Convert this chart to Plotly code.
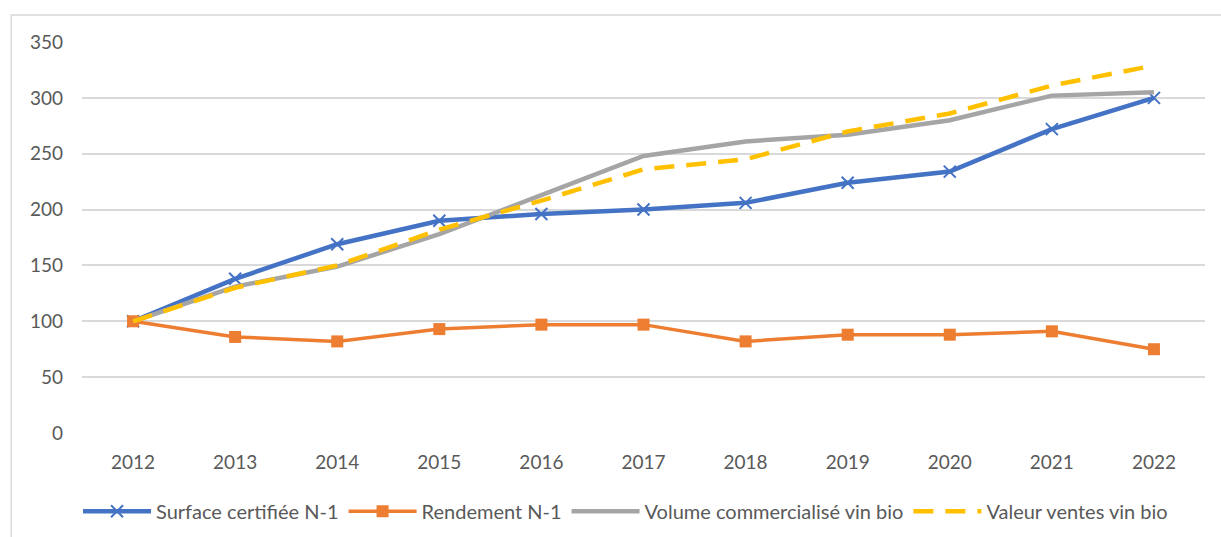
import plotly.graph_objects as go

years = ["2012", "2013", "2014", "2015", "2016", "2017", "2018", "2019", "2020", "2021", "2022"]
surface = [100, 138, 169, 190, 196, 200, 206, 224, 234, 272, 300]
rendement = [100, 86, 82, 93, 97, 97, 82, 88, 88, 91, 75]
volume = [100, 131, 149, 178, 213, 248, 261, 267, 280, 302, 305]
valeur = [100, 130, 150, 182, 208, 236, 245, 270, 286, 311, 329]
y_ticks = [0, 50, 100, 150, 200, 250, 300, 350]

names = ["Surface certifiée N-1", "Rendement N-1", "Volume commercialisé vin bio", "Valeur ventes vin bio"]

fig = go.Figure()
fig.add_trace(go.Scatter(x=years, y=surface, name=names[0], mode="lines+markers",
                         line=dict(color="#4472C4", width=4.5),
                         marker=dict(symbol="x-thin", size=12, line=dict(color="#4472C4", width=2), color="#4472C4")))
fig.add_trace(go.Scatter(x=years, y=rendement, name=names[1], mode="lines+markers",
                         line=dict(color="#ED7D31", width=3.5),
                         marker=dict(symbol="square", size=12, color="#ED7D31")))
fig.add_trace(go.Scatter(x=years, y=volume, name=names[2], mode="lines",
                         line=dict(color="#A5A5A5", width=4.5)))
fig.add_trace(go.Scatter(x=years, y=valeur, name=names[3], mode="lines",
                         line=dict(color="#FFC000", width=4.5, dash="20px,12px")))

fig.update_layout(
    width=1221, height=537,
    margin=dict(l=82, r=16, t=42, b=104, autoexpand=False),
    paper_bgcolor="white", plot_bgcolor="white",
    font=dict(family="Lato, 'Open Sans', sans-serif", size=19, color="#595959"),
    showlegend=True,
    legend=dict(orientation="h", x=0.484, xanchor="center", y=-0.2, yanchor="middle",
                font=dict(size=20, color="#595959"), itemwidth=68, tracegroupgap=0),
    shapes=[dict(type="rect", xref="paper", yref="paper", x0=-0.063, x1=1.02, y0=-0.3, y1=1.069,
                 line=dict(color="#D9D9D9", width=1.5), fillcolor="rgba(0,0,0,0)", layer="below")],
)
fig.update_xaxes(type="category", range=[-0.5, 10.5], showgrid=False, showline=False, zeroline=False, ticks="",
                 automargin=False, ticklabelstandoff=16, tickfont=dict(size=19, color="#595959"))
fig.update_yaxes(range=[0, 350], tickvals=y_ticks, showgrid=True, gridcolor="#D9D9D9", gridwidth=1.5,
                 automargin=False, zeroline=False, showline=False, ticks="", ticklabelstandoff=18,
                 tickfont=dict(size=19, color="#595959"))

fig.write_html("out.html", config={"displayModeBar": False},
               post_script="document.body.style.margin='0';document.body.style.overflow='hidden';")
